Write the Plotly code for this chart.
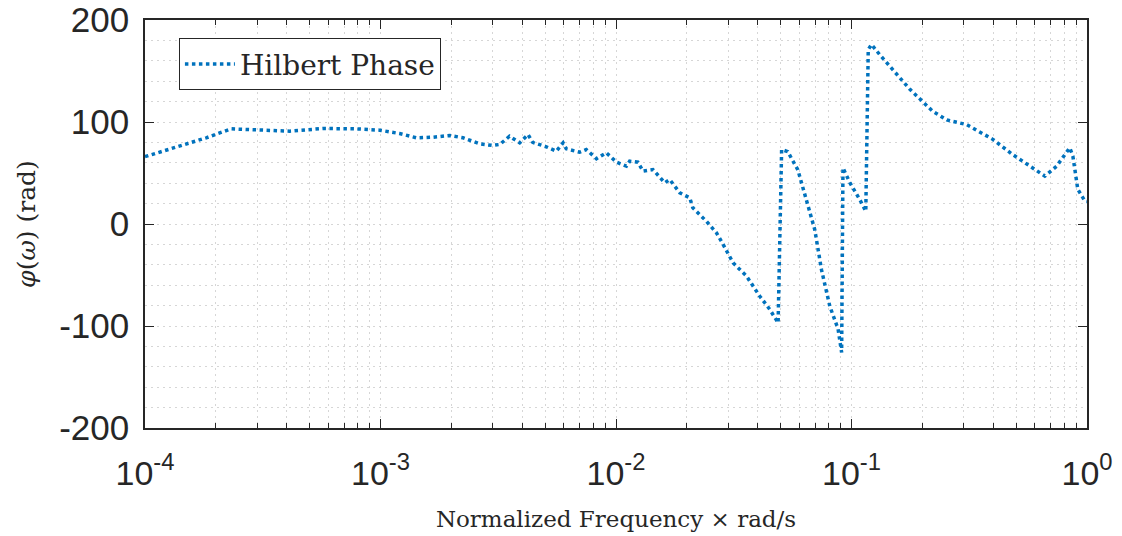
import plotly.graph_objects as go

freq = [1.0e-4, 1.31e-4, 1.82e-4, 2.32e-4, 2.96e-4, 4.11e-4, 5.69e-4, 7.88e-4, 9.9e-4,
        1.205e-3, 1.42e-3, 1.67e-3, 1.97e-3, 2.24e-3, 2.64e-3, 2.99e-3, 3.21e-3, 3.53e-3,
        3.90e-3, 4.23e-3, 4.43e-3, 5.06e-3, 5.58e-3, 5.96e-3, 6.15e-3, 7.01e-3, 7.48e-3,
        8.26e-3, 9.10e-3, 1.005e-2, 1.107e-2, 1.143e-2, 1.239e-2, 1.303e-2, 1.435e-2,
        1.61e-2, 1.69e-2, 1.866e-2, 2.056e-2, 2.12e-2, 2.42e-2, 2.67e-2, 2.85e-2, 3.14e-2,
        3.58e-2, 4.08e-2, 4.50e-2, 4.88e-2, 5.05e-2, 5.36e-2, 5.92e-2, 6.44e-2, 6.98e-2,
        7.46e-2, 8.09e-2, 8.77e-2, 9.08e-2, 9.20e-2, 9.84e-2, 0.1084, 0.115, 0.1178,
        0.1216, 0.1318, 0.155, 0.177, 0.221, 0.254, 0.308, 0.398, 0.484, 0.589, 0.662,
        0.743, 0.845, 0.871, 0.914, 0.98, 1.0]
phase = [66, 74.7, 84.5, 93.3, 92.6, 91, 93.6, 93.3, 92,
         88.7, 84.5, 85.1, 86.8, 84.5, 78.6, 77, 78, 86,
         79.6, 87.7, 80, 75.7, 71.4, 79.6, 73.7, 70.4, 73,
         64, 69.8, 60.6, 56.7, 61.6, 60.6, 51.8, 53.4,
         40.4, 43.6, 30.6, 25.7, 15.9, 2.7, -8.6, -20, -38,
         -51, -70.8, -83.8, -97, 73, 71, 53, 24, -5.4,
         -45, -80.6, -103, -126, 55, 40.6, 24, 12.5, 171,
         176, 166, 148, 132, 110.6, 102, 97.5, 83, 68, 55, 47,
         56.7, 74.7, 66.5, 34, 22.4, 22]

x_ticks = [1e-4, 1e-3, 1e-2, 1e-1, 1e0]
x_ticktext = ["10<sup>-4</sup>", "10<sup>-3</sup>", "10<sup>-2</sup>", "10<sup>-1</sup>", "10<sup>0</sup>"]
x_minor = [m * 10 ** e for e in range(-4, 0) for m in range(2, 10)]
y_ticks = [-200, -100, 0, 100, 200]
y_ticktext = ["-200", "-100", "0", "100", "200"]

axis_col = "#262626"
grid_col = "#d6d6d6"
grid_dash = "2px,4px"

fig = go.Figure()
fig.add_trace(go.Scatter(
    x=freq, y=phase, mode="lines", name="Hilbert Phase",
    line=dict(color="#0072BD", width=3.5, dash="dot"),
))

fig.update_layout(
    width=1122, height=536,
    margin=dict(l=145, r=35, t=20, b=108),
    paper_bgcolor="white", plot_bgcolor="white",
    showlegend=True,
    legend=dict(
        x=0.036, y=0.955, xanchor="left", yanchor="top",
        bgcolor="white", bordercolor=axis_col, borderwidth=1,
        itemwidth=50,
        font=dict(family="DejaVu Serif", size=28, color=axis_col),
    ),
)

fig.update_xaxes(
    type="log", range=[-4, 0], automargin=False,
    tickmode="array", tickvals=x_ticks, ticktext=x_ticktext,
    tickfont=dict(family="Liberation Sans", size=34, color=axis_col),
    ticklabelstandoff=14,
    ticks="inside", ticklen=9, tickcolor=axis_col, tickwidth=1,
    showline=True, linecolor=axis_col, linewidth=1.5, mirror="ticks",
    showgrid=True, gridcolor=grid_col, griddash=grid_dash, gridwidth=1,
    minor=dict(tickmode="array", tickvals=x_minor, ticks="inside", ticklen=5,
               tickcolor=axis_col, showgrid=True, gridcolor=grid_col, griddash=grid_dash),
    zeroline=False,
    title=dict(text="Normalized Frequency × rad/s",
               font=dict(family="DejaVu Serif", size=23, color=axis_col), standoff=20),
)

fig.update_yaxes(
    range=[-200, 200], automargin=False,
    tickmode="array", tickvals=y_ticks, ticktext=y_ticktext,
    tickfont=dict(family="Liberation Sans", size=35, color=axis_col),
    ticklabelstandoff=7,
    ticks="inside", ticklen=9, tickcolor=axis_col, tickwidth=1,
    showline=True, linecolor=axis_col, linewidth=1.5, mirror="ticks",
    showgrid=True, gridcolor=grid_col, griddash=grid_dash, gridwidth=1,
    minor=dict(dtick=20, ticks="", showgrid=True, gridcolor=grid_col, griddash=grid_dash),
    zeroline=False,
    title=dict(text="<i>φ</i>(<i>ω</i>) (rad)",
               font=dict(family="DejaVu Serif", size=25, color=axis_col), standoff=16),
)

fig.write_html("out.html")
